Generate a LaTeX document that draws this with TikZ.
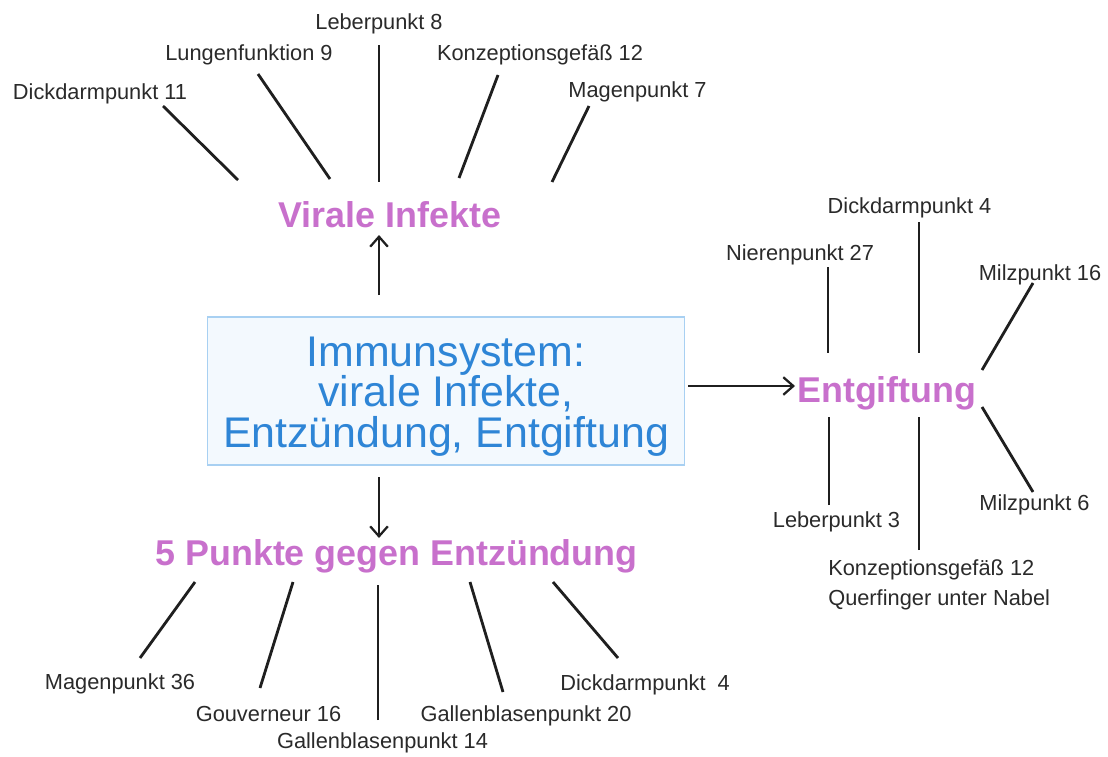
\documentclass[tikz,border=0pt]{standalone}
\usepackage{fontspec}
\setmainfont{Liberation Sans}
\usetikzlibrary{arrows.meta}
\definecolor{immblau}{RGB}{46,133,214}
\definecolor{immrand}{RGB}{168,208,242}
\definecolor{immfill}{RGB}{243,249,254}
\definecolor{rosa}{RGB}{200,112,204}
\definecolor{schrift}{RGB}{42,42,42}

\begin{document}
\begin{tikzpicture}[x=0.025cm,y=-0.025cm,
  punkt/.style={font=\fontsize{15.5}{21.3}\selectfont,text=schrift,anchor=base,inner sep=0pt},
  thema/.style={font=\fontsize{25.5}{30}\selectfont\bfseries,text=rosa,anchor=base,inner sep=0pt},
  strich/.style={line width=2pt,black!88},
  pfeil/.style={line width=1.6pt,black!88,-{Straight Barb[length=2.5mm,width=4.4mm]}}]
\useasboundingbox (0,0) rectangle (1108,756);

% Mitte
\node[draw=immrand,fill=immfill,line width=0.8pt,minimum width=11.925cm,minimum height=3.7cm,inner sep=0pt] (imm) at (446,391) {};
\node[align=center,inner sep=0pt,text=immblau,font=\fontsize{30.5}{28.8}\selectfont] (immtext) at (446,396.5) {Immunsystem:\\virale Infekte,\\Entzündung, Entgiftung};

% Themen
\node[thema] (vir) at (390,227) {Virale Infekte};
\node[thema,anchor=base west] (entg) at (797,402) {Entgiftung};
\node[thema] (entz) at (396.5,565) {5 Punkte gegen Entzündung};

\coordinate (imm-n) at (379,295);
\coordinate (vir-s) at (379,235);
\coordinate (imm-s) at (379,477);
\coordinate (entz-n) at (379,538);
\coordinate (imm-e) at (688,386);
\coordinate (entg-w) at (795,386);
\draw[pfeil] (imm-n) -- (vir-s);
\draw[pfeil] (imm-s) -- (entz-n);
\draw[pfeil] (imm-e) -- (entg-w);

% Virale Infekte
\node[punkt] (v1) at (100,99) {Dickdarmpunkt 11};
\node[punkt] (v2) at (249,60) {Lungenfunktion 9};
\node[punkt] (v3) at (379,29) {Leberpunkt 8};
\node[punkt] (v4) at (540,60) {Konzeptionsgefäß 12};
\node[punkt] (v5) at (637.5,97) {Magenpunkt 7};
\coordinate (v1a) at (163,106); \coordinate (v1b) at (238,180);
\coordinate (v2a) at (258,74);  \coordinate (v2b) at (330,179);
\coordinate (v3a) at (379,45);  \coordinate (v3b) at (379,182);
\coordinate (v4a) at (498,75);  \coordinate (v4b) at (459,178);
\coordinate (v5a) at (589,106); \coordinate (v5b) at (552,182);
\foreach \i in {1,...,5}
  \draw[strich] (v\i a) -- (v\i b);

% Entgiftung
\node[punkt] (g1) at (800,260) {Nierenpunkt 27};
\node[punkt] (g2) at (909.5,213) {Dickdarmpunkt 4};
\node[punkt] (g3) at (1040,280) {Milzpunkt 16};
\node[punkt] (g4) at (836.5,527) {Leberpunkt 3};
\node[punkt,anchor=north west,align=left] (g5) at (828,559) {Konzeptionsgefäß 12\\Querfinger unter Nabel};
\node[punkt] (g6) at (1034.5,510) {Milzpunkt 6};
\coordinate (g1a) at (828,267);  \coordinate (g1b) at (828,353);
\coordinate (g2a) at (919,222);  \coordinate (g2b) at (919,353);
\coordinate (g3a) at (1033,283); \coordinate (g3b) at (982,370);
\coordinate (g4a) at (829,505);  \coordinate (g4b) at (829,417);
\coordinate (g5a) at (919,550);  \coordinate (g5b) at (919,417);
\coordinate (g6a) at (1033,492); \coordinate (g6b) at (982,407);
\foreach \i in {1,...,6}
  \draw[strich] (g\i a) -- (g\i b);

% Entzuendung
\node[punkt] (e1) at (120,689) {Magenpunkt 36};
\node[punkt] (e2) at (268.5,721) {Gouverneur 16};
\node[punkt] (e3) at (382.5,748) {Gallenblasenpunkt 14};
\node[punkt] (e4) at (526,721) {Gallenblasenpunkt 20};
\node[punkt,anchor=base west] (e5) at (560,690) {Dickdarmpunkt~~4};
\coordinate (e1a) at (140,658); \coordinate (e1b) at (195,582);
\coordinate (e2a) at (260,688); \coordinate (e2b) at (293,582);
\coordinate (e3a) at (378,720); \coordinate (e3b) at (378,585);
\coordinate (e4a) at (503,692); \coordinate (e4b) at (470,582);
\coordinate (e5a) at (618,658); \coordinate (e5b) at (553,582);
\foreach \i in {1,...,5}
  \draw[strich] (e\i a) -- (e\i b);

\end{tikzpicture}
\end{document}
